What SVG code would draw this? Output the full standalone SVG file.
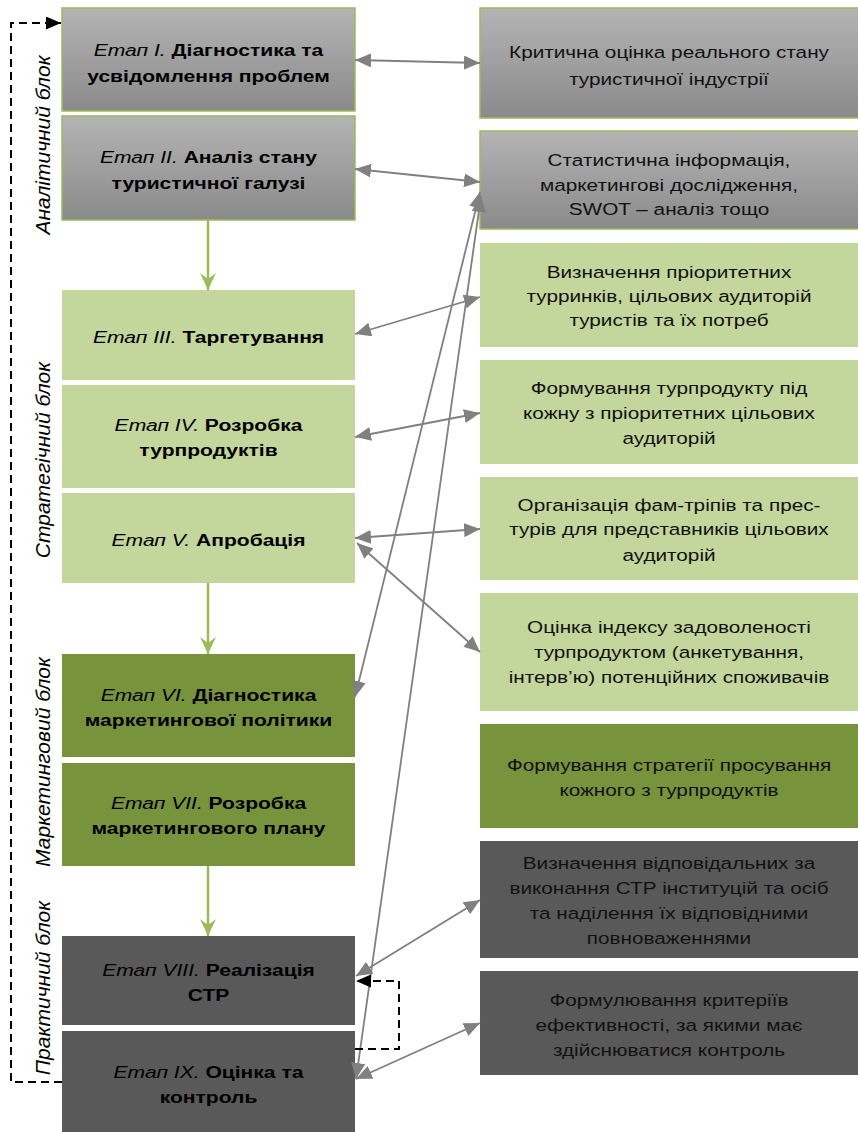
<svg xmlns="http://www.w3.org/2000/svg" width="858" height="1132" viewBox="0 0 858 1132">
  <style>
    .stage { font-family: "Liberation Sans", Arial, sans-serif; font-size: 17px; font-weight: bold; fill: #000; text-anchor: middle; }
    .stage .it { font-style: italic; font-weight: normal; }
    .info { font-family: "Liberation Sans", Arial, sans-serif; font-size: 17px; fill: #111; text-anchor: middle; }
    .block { font-family: "Liberation Sans", Arial, sans-serif; font-size: 21px; font-style: italic; fill: #000; text-anchor: middle; }
    .grey { fill: url(#greyFill); stroke: #9bbb59; stroke-width: 1.5; }
    .lgreen { fill: #c3d69b; }
    .dgreen { fill: #77933c; }
    .dgrey { fill: #595959; }
    .link { stroke: #808080; stroke-width: 1.8; fill: none; marker-start: url(#greyHead); marker-end: url(#greyHead); }
    .flow { stroke: #9bbb59; stroke-width: 2.5; fill: none; marker-end: url(#greenHead); }
    .loop { stroke: #000; stroke-width: 2; stroke-dasharray: 8 5; fill: none; marker-end: url(#blackHead); }
  </style>
  <defs>
    <linearGradient id="greyFill" x1="0" y1="0" x2="0" y2="1">
      <stop offset="0" stop-color="#b4b4b4"/>
      <stop offset="1" stop-color="#8a8a8a"/>
    </linearGradient>
    <marker id="greyHead" markerUnits="userSpaceOnUse" markerWidth="16" markerHeight="14" refX="16" refY="7" orient="auto-start-reverse">
      <path d="M0,0 L16,7 L0,14 z" fill="#808080"/>
    </marker>
    <marker id="greenHead" markerUnits="userSpaceOnUse" markerWidth="18" markerHeight="18" refX="17" refY="9" orient="auto">
      <path d="M0,1 L17,9 L0,17 L6,9 z" fill="#9bbb59"/>
    </marker>
    <marker id="blackHead" markerUnits="userSpaceOnUse" markerWidth="15" markerHeight="13" refX="15" refY="6.5" orient="auto">
      <path d="M0,0 L15,6.5 L0,13 z" fill="#000"/>
    </marker>
  </defs>

  <!-- block captions on the left margin -->
  <g id="blocks">
    <text class="block" transform="translate(50 145) rotate(-90)">Аналітичний блок</text>
    <text class="block" transform="translate(50 460) rotate(-90)">Стратегічний блок</text>
    <text class="block" transform="translate(50 762) rotate(-90)">Маркетинговий блок</text>
    <text class="block" transform="translate(50 988) rotate(-90)">Практичний блок</text>
  </g>

  <!-- stages (left column) -->
  <g id="stage1">
    <rect class="grey" x="62" y="8" width="293" height="103"/>
    <g transform="translate(208.5 0) scale(1.24 1)">
      <text class="stage" x="0" y="56"><tspan class="it">Етап I.</tspan> Діагностика та</text>
      <text class="stage" x="0" y="82">усвідомлення проблем</text>
    </g>
  </g>
  <g id="stage2">
    <rect class="grey" x="62" y="116" width="293" height="104"/>
    <g transform="translate(208.5 0) scale(1.24 1)">
      <text class="stage" x="0" y="163"><tspan class="it">Етап II.</tspan> Аналіз стану</text>
      <text class="stage" x="0" y="189">туристичної галузі</text>
    </g>
  </g>
  <g id="stage3">
    <rect class="lgreen" x="62" y="290" width="293" height="90"/>
    <g transform="translate(208.5 0) scale(1.24 1)">
      <text class="stage" x="0" y="343"><tspan class="it">Етап III.</tspan> Таргетування</text>
    </g>
  </g>
  <g id="stage4">
    <rect class="lgreen" x="62" y="385" width="293" height="103"/>
    <g transform="translate(208.5 0) scale(1.24 1)">
      <text class="stage" x="0" y="431"><tspan class="it">Етап IV.</tspan> Розробка</text>
      <text class="stage" x="0" y="456">турпродуктів</text>
    </g>
  </g>
  <g id="stage5">
    <rect class="lgreen" x="62" y="493" width="293" height="90"/>
    <g transform="translate(208.5 0) scale(1.24 1)">
      <text class="stage" x="0" y="546"><tspan class="it">Етап V.</tspan> Апробація</text>
    </g>
  </g>
  <g id="stage6">
    <rect class="dgreen" x="62" y="654" width="293" height="103"/>
    <g transform="translate(208.5 0) scale(1.24 1)">
      <text class="stage" x="0" y="701"><tspan class="it">Етап VI.</tspan> Діагностика</text>
      <text class="stage" x="0" y="726">маркетингової політики</text>
    </g>
  </g>
  <g id="stage7">
    <rect class="dgreen" x="62" y="763" width="293" height="103"/>
    <g transform="translate(208.5 0) scale(1.24 1)">
      <text class="stage" x="0" y="809"><tspan class="it">Етап VII.</tspan> Розробка</text>
      <text class="stage" x="0" y="834">маркетингового плану</text>
    </g>
  </g>
  <g id="stage8">
    <rect class="dgrey" x="62" y="936" width="293" height="89"/>
    <g transform="translate(208.5 0) scale(1.24 1)">
      <text class="stage" x="0" y="976"><tspan class="it">Етап VIII.</tspan> Реалізація</text>
      <text class="stage" x="0" y="1001">СТР</text>
    </g>
  </g>
  <g id="stage9">
    <rect class="dgrey" x="62" y="1031" width="293" height="101"/>
    <g transform="translate(208.5 0) scale(1.24 1)">
      <text class="stage" x="0" y="1078"><tspan class="it">Етап IX.</tspan> Оцінка та</text>
      <text class="stage" x="0" y="1103">контроль</text>
    </g>
  </g>

  <!-- tasks (right column) -->
  <g id="task1">
    <rect class="grey" x="480" y="8" width="380" height="110"/>
    <g transform="translate(669 0) scale(1.22 1)">
      <text class="info" x="0" y="58">Критична оцінка реального стану</text>
      <text class="info" x="0" y="85">туристичної індустрії</text>
    </g>
  </g>
  <g id="task2">
    <rect class="grey" x="480" y="131" width="380" height="98"/>
    <g transform="translate(669 0) scale(1.22 1)">
      <text class="info" x="0" y="166">Статистична інформація,</text>
      <text class="info" x="0" y="191">маркетингові дослідження,</text>
      <text class="info" x="0" y="215">SWOT – аналіз тощо</text>
    </g>
  </g>
  <g id="task3">
    <rect class="lgreen" x="480" y="243" width="380" height="104"/>
    <g transform="translate(669 0) scale(1.22 1)">
      <text class="info" x="0" y="278">Визначення пріоритетних</text>
      <text class="info" x="0" y="302">турринків, цільових аудиторій</text>
      <text class="info" x="0" y="326">туристів та їх потреб</text>
    </g>
  </g>
  <g id="task4">
    <rect class="lgreen" x="480" y="360" width="380" height="104"/>
    <g transform="translate(669 0) scale(1.22 1)">
      <text class="info" x="0" y="394">Формування турпродукту під</text>
      <text class="info" x="0" y="419">кожну з пріоритетних цільових</text>
      <text class="info" x="0" y="444">аудиторій</text>
    </g>
  </g>
  <g id="task5">
    <rect class="lgreen" x="480" y="477" width="380" height="103"/>
    <g transform="translate(669 0) scale(1.22 1)">
      <text class="info" x="0" y="511">Організація фам-тріпів та прес-</text>
      <text class="info" x="0" y="535">турів для представників цільових</text>
      <text class="info" x="0" y="561">аудиторій</text>
    </g>
  </g>
  <g id="task6">
    <rect class="lgreen" x="480" y="593" width="380" height="118"/>
    <g transform="translate(669 0) scale(1.22 1)">
      <text class="info" x="0" y="633">Оцінка індексу задоволеності</text>
      <text class="info" x="0" y="658">турпродуктом (анкетування,</text>
      <text class="info" x="0" y="683">інтерв’ю) потенційних споживачів</text>
    </g>
  </g>
  <g id="task7">
    <rect class="dgreen" x="480" y="724" width="380" height="104"/>
    <g transform="translate(669 0) scale(1.22 1)">
      <text class="info" x="0" y="771">Формування стратегії просування</text>
      <text class="info" x="0" y="796">кожного з турпродуктів</text>
    </g>
  </g>
  <g id="task8">
    <rect class="dgrey" x="480" y="841" width="380" height="117"/>
    <g transform="translate(669 0) scale(1.22 1)">
      <text class="info" x="0" y="869">Визначення відповідальних за</text>
      <text class="info" x="0" y="894">виконання СТР інституцій та осіб</text>
      <text class="info" x="0" y="919">та наділення їх відповідними</text>
      <text class="info" x="0" y="944">повноваженнями</text>
    </g>
  </g>
  <g id="task9">
    <rect class="dgrey" x="480" y="971" width="380" height="104"/>
    <g transform="translate(669 0) scale(1.22 1)">
      <text class="info" x="0" y="1006">Формулювання критеріїв</text>
      <text class="info" x="0" y="1031">ефективності, за якими має</text>
      <text class="info" x="0" y="1056">здійснюватися контроль</text>
    </g>
  </g>

  <!-- connectors -->
  <g id="connectors">
    <line class="flow" x1="208" y1="220" x2="208" y2="290"/>
    <line class="flow" x1="208" y1="583" x2="208" y2="654"/>
    <line class="flow" x1="208" y1="866" x2="208" y2="936"/>

    <line class="link" x1="355" y1="60" x2="480" y2="63"/>
    <line class="link" x1="355" y1="169" x2="480" y2="182"/>
    <line class="link" x1="355" y1="334" x2="480" y2="297"/>
    <line class="link" x1="355" y1="437" x2="480" y2="413"/>
    <line class="link" x1="355" y1="538" x2="480" y2="529"/>
    <line class="link" x1="357" y1="543" x2="480" y2="652"/>
    <line class="link" x1="355" y1="697" x2="480" y2="192"/>
    <line class="link" x1="356" y1="1079" x2="481" y2="196"/>
    <line class="link" x1="356" y1="976" x2="480" y2="900"/>
    <line class="link" x1="356" y1="1079" x2="480" y2="1023"/>

    <polyline class="loop" points="355,1049 399,1049 399,981 356,981"/>
    <polyline class="loop" points="62,1082 11,1082 11,23 61,23"/>
  </g>
</svg>
